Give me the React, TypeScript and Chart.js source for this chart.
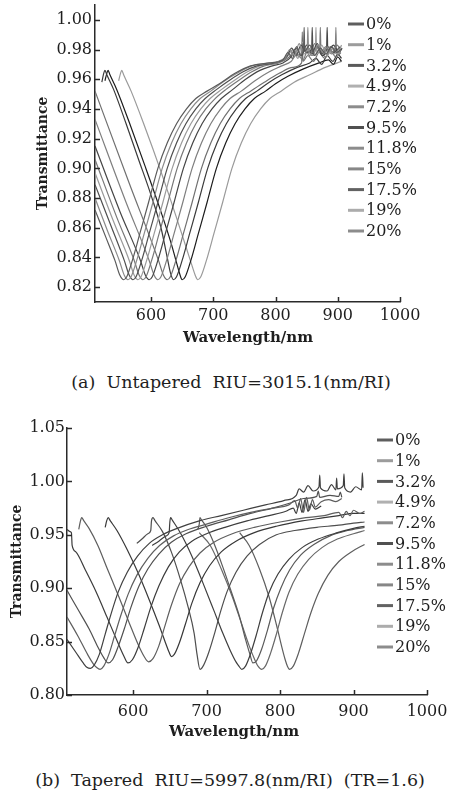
import React, { useEffect, useRef } from 'react';
import { Chart, registerables } from 'chart.js';

Chart.register(...registerables);

type Pt = [number, number];

// ---------- labels & ticks ----------
const LEGEND_LABELS = ['0%', '1%', '3.2%', '4.9%', '7.2%', '9.5%', '11.8%', '15%', '17.5%', '19%', '20%'];
const X_TICKS = [600, 700, 800, 900, 1000];
const Y_TICKS_A = [0.82, 0.84, 0.86, 0.88, 0.9, 0.92, 0.94, 0.96, 0.98, 1.0];
const Y_TICKS_B = [0.8, 0.85, 0.9, 0.95, 1.0, 1.05];
const CAPTION_A = '(a)  Untapered  RIU=3015.1(nm/RI)';
const CAPTION_B = '(b)  Tapered  RIU=5997.8(nm/RI)  (TR=1.6)';

// ---------- (a) Untapered: [wavelength nm, transmittance] ----------
const untapered0: Pt[] = [[510,0.872],[528,0.853],[542,0.838],[550,0.828],[556,0.825],[561,0.827],[570,0.838],[582,0.856],[596,0.877],[611,0.900],[626,0.917],[641,0.930],[657,0.940],[672,0.947],[690,0.952],[710,0.957],[735,0.964],[760,0.969],[790,0.971],[812,0.973],[820,0.978],[827,0.974],[834,0.982],[840,0.976],[845,0.980],[846,0.995],[847,0.979],[855,0.983],[863,0.976],[872,0.981],[881,0.977],[890,0.982],[898,0.978],[905,0.980]];
const untapered1: Pt[] = [[510,0.880],[530,0.858],[549,0.838],[557,0.828],[563,0.825],[568,0.827],[577,0.838],[589,0.856],[603,0.877],[618,0.900],[633,0.917],[648,0.930],[664,0.940],[679,0.947],[696,0.952],[715,0.958],[738,0.964],[762,0.969],[792,0.971],[815,0.974],[823,0.980],[830,0.975],[838,0.984],[845,0.977],[851,0.981],[852,0.995],[853,0.980],[860,0.976],[868,0.983],[876,0.978],[885,0.982],[894,0.977],[903,0.981]];
const untapered2: Pt[] = [[510,0.889],[535,0.862],[557,0.838],[565,0.828],[571,0.825],[576,0.827],[585,0.838],[597,0.856],[611,0.877],[626,0.900],[641,0.917],[656,0.930],[672,0.940],[687,0.947],[705,0.953],[725,0.959],[748,0.965],[770,0.969],[798,0.971],[818,0.975],[826,0.981],[833,0.976],[841,0.983],[849,0.978],[858,0.980],[859,0.995],[860,0.979],[867,0.984],[875,0.977],[884,0.982],[893,0.978],[904,0.982]];
const untapered3: Pt[] = [[510,0.897],[540,0.864],[565,0.838],[573,0.828],[579,0.825],[584,0.827],[593,0.838],[605,0.856],[619,0.877],[634,0.900],[649,0.917],[664,0.930],[680,0.940],[695,0.947],[713,0.953],[733,0.959],[755,0.965],[775,0.969],[800,0.971],[820,0.976],[828,0.980],[836,0.974],[843,0.985],[851,0.977],[858,0.982],[864,0.979],[865,0.995],[866,0.978],[874,0.983],[883,0.976],[892,0.981],[900,0.977],[906,0.983]];
const untapered4: Pt[] = [[510,0.906],[545,0.867],[573,0.838],[581,0.828],[587,0.825],[592,0.827],[601,0.838],[613,0.856],[627,0.877],[642,0.900],[657,0.917],[672,0.930],[688,0.940],[703,0.947],[720,0.953],[740,0.959],[762,0.965],[782,0.969],[805,0.971],[822,0.975],[830,0.979],[838,0.975],[846,0.982],[855,0.976],[863,0.984],[871,0.979],[872,0.995],[873,0.978],[881,0.982],[890,0.977],[899,0.983],[905,0.979]];
const untapered5: Pt[] = [[510,0.915],[550,0.871],[583,0.838],[591,0.828],[597,0.825],[602,0.827],[611,0.838],[623,0.856],[637,0.877],[652,0.900],[667,0.917],[682,0.930],[698,0.940],[713,0.947],[731,0.953],[752,0.960],[775,0.966],[795,0.969],[812,0.971],[825,0.975],[833,0.981],[842,0.976],[850,0.983],[858,0.977],[867,0.982],[875,0.976],[882,0.980],[883,0.995],[884,0.979],[893,0.983],[902,0.978],[907,0.981]];
const untapered6: Pt[] = [[510,0.933],[560,0.877],[597,0.838],[605,0.828],[611,0.825],[616,0.827],[625,0.838],[637,0.856],[651,0.877],[666,0.900],[681,0.917],[696,0.930],[712,0.940],[727,0.947],[745,0.952],[767,0.959],[790,0.965],[810,0.969],[825,0.972],[835,0.977],[844,0.973],[853,0.981],[862,0.976],[871,0.980],[880,0.975],[889,0.982],[896,0.978],[897,0.995],[898,0.977],[904,0.980]];
const untapered7: Pt[] = [[510,0.952],[565,0.890],[612,0.838],[620,0.828],[626,0.825],[631,0.827],[640,0.838],[652,0.856],[666,0.877],[681,0.900],[696,0.917],[711,0.930],[727,0.940],[742,0.947],[760,0.952],[782,0.958],[806,0.964],[828,0.968],[842,0.971],[843,0.992],[844,0.972],[852,0.976],[861,0.972],[870,0.978],[879,0.974],[888,0.979],[897,0.975],[905,0.978]];
const untapered8: Pt[] = [[521,0.958],[524,0.964],[526,0.966],[529,0.963],[540,0.953],[560,0.930],[580,0.906],[600,0.882],[616,0.860],[626,0.840],[631,0.830],[636,0.825],[641,0.827],[650,0.838],[662,0.856],[676,0.877],[691,0.900],[706,0.917],[721,0.930],[737,0.940],[752,0.947],[770,0.952],[790,0.958],[810,0.963],[835,0.968],[855,0.971],[865,0.974],[874,0.970],[883,0.976],[892,0.972],[900,0.977],[906,0.974]];
const untapered9: Pt[] = [[526,0.959],[529,0.964],[531,0.966],[534,0.963],[545,0.953],[565,0.931],[590,0.902],[615,0.872],[632,0.850],[642,0.835],[646,0.829],[650,0.825],[655,0.827],[664,0.838],[676,0.856],[690,0.877],[705,0.900],[720,0.917],[735,0.930],[751,0.940],[766,0.947],[784,0.952],[800,0.957],[820,0.962],[845,0.967],[870,0.971],[885,0.973],[893,0.970],[900,0.975],[906,0.972]];
const untapered10: Pt[] = [[548,0.959],[551,0.964],[553,0.966],[556,0.963],[568,0.952],[590,0.928],[615,0.899],[640,0.868],[657,0.846],[667,0.833],[671,0.828],[675,0.825],[680,0.827],[689,0.838],[701,0.856],[715,0.877],[730,0.900],[745,0.917],[760,0.930],[776,0.940],[791,0.947],[809,0.952],[830,0.958],[855,0.963],[880,0.968],[906,0.972]];

// ---------- (b) Tapered ----------
const tapered0: Pt[] = [[510,0.852],[522,0.840],[532,0.830],[537,0.826],[542,0.825],[547,0.828],[554,0.838],[562,0.857],[570,0.876],[580,0.897],[592,0.915],[606,0.930],[622,0.942],[640,0.950],[660,0.956],[690,0.963],[720,0.968],[750,0.973],[780,0.978],[805,0.982],[822,0.987],[826,0.993],[832,0.990],[838,0.996],[845,0.991],[853,0.995],[854,1.006],[855,0.994],[864,0.991],[870,0.997],[876,0.992],[877,1.003],[878,0.993],[886,0.996],[887,1.007],[888,0.994],[896,0.990],[903,0.995],[911,0.992],[912,1.008],[913,0.994]];
const tapered1: Pt[] = [[510,0.873],[525,0.855],[538,0.838],[546,0.829],[550,0.826],[555,0.824],[560,0.827],[567,0.838],[575,0.856],[583,0.874],[593,0.894],[605,0.912],[620,0.928],[636,0.940],[655,0.949],[675,0.955],[700,0.960],[730,0.966],[760,0.971],[790,0.975],[812,0.978],[820,0.982],[824,0.975],[828,0.984],[832,0.971],[836,0.985],[840,0.973],[844,0.983],[848,0.976],[856,0.981],[866,0.983],[876,0.981],[884,0.984]];
const tapered2: Pt[] = [[510,0.898],[525,0.880],[540,0.862],[552,0.845],[560,0.835],[566,0.830],[572,0.833],[580,0.846],[588,0.862],[597,0.882],[608,0.902],[620,0.918],[635,0.932],[652,0.943],[672,0.951],[700,0.958],[730,0.964],[760,0.970],[790,0.975],[815,0.980],[832,0.984],[850,0.986],[852,0.991],[854,0.985],[868,0.987],[880,0.986],[882,0.990],[884,0.985]];
const tapered3: Pt[] = [[510,0.955],[514,0.953],[516,0.952],[517,0.940],[522,0.934],[535,0.917],[550,0.896],[565,0.872],[578,0.851],[587,0.837],[593,0.830],[599,0.833],[607,0.845],[615,0.862],[624,0.882],[635,0.902],[648,0.920],[663,0.934],[680,0.944],[700,0.951],[725,0.957],[755,0.963],[785,0.968],[808,0.972],[818,0.975],[822,0.970],[826,0.980],[830,0.971],[834,0.983],[838,0.972],[842,0.979],[848,0.974],[856,0.977]];
const tapered4: Pt[] = [[526,0.955],[528,0.962],[530,0.966],[533,0.963],[540,0.956],[552,0.940],[565,0.918],[580,0.893],[595,0.867],[607,0.847],[615,0.836],[621,0.831],[627,0.834],[635,0.846],[643,0.864],[652,0.884],[663,0.904],[676,0.920],[691,0.933],[710,0.943],[735,0.951],[765,0.957],[800,0.962],[835,0.966],[860,0.968],[880,0.971],[885,0.966],[890,0.972],[895,0.968],[900,0.973],[908,0.970],[915,0.972]];
const tapered5: Pt[] = [[562,0.957],[564,0.963],[566,0.966],[569,0.963],[578,0.954],[592,0.936],[607,0.914],[622,0.889],[635,0.866],[644,0.849],[649,0.840],[652,0.836],[656,0.838],[663,0.849],[671,0.866],[680,0.886],[691,0.905],[704,0.921],[720,0.934],[740,0.944],[765,0.952],[795,0.958],[830,0.963],[860,0.966],[880,0.968],[900,0.970],[915,0.970]];
const tapered6: Pt[] = [[605,0.942],[612,0.946],[620,0.951],[624,0.954],[625,0.963],[627,0.966],[630,0.963],[640,0.953],[652,0.934],[664,0.909],[675,0.882],[683,0.858],[687,0.838],[691,0.824],[696,0.828],[703,0.840],[711,0.858],[719,0.878],[728,0.897],[740,0.915],[755,0.930],[772,0.941],[795,0.950],[820,0.954],[850,0.957],[880,0.959],[900,0.961],[915,0.962]];
const tapered7: Pt[] = [[626,0.940],[635,0.944],[645,0.949],[649,0.952],[650,0.962],[651,0.966],[654,0.963],[665,0.951],[680,0.930],[695,0.905],[710,0.879],[722,0.858],[732,0.842],[740,0.831],[744,0.827],[748,0.824],[753,0.827],[760,0.839],[768,0.857],[776,0.877],[785,0.896],[797,0.913],[812,0.927],[830,0.938],[852,0.946],[878,0.952],[900,0.956],[915,0.958]];
const tapered8: Pt[] = [[688,0.955],[690,0.960],[691,0.966],[693,0.964],[700,0.957],[710,0.942],[722,0.920],[734,0.896],[745,0.873],[753,0.852],[759,0.838],[763,0.830],[768,0.832],[775,0.843],[783,0.861],[791,0.881],[801,0.900],[813,0.917],[828,0.931],[846,0.941],[868,0.949],[892,0.954],[915,0.957]];
const tapered9: Pt[] = [[690,0.952],[705,0.940],[720,0.918],[735,0.892],[748,0.866],[758,0.846],[765,0.834],[770,0.827],[775,0.824],[780,0.827],[787,0.839],[795,0.857],[803,0.877],[812,0.896],[824,0.913],[839,0.927],[857,0.938],[878,0.946],[900,0.951],[915,0.954]];
const tapered10: Pt[] = [[745,0.952],[758,0.940],[772,0.918],[785,0.892],[795,0.866],[802,0.846],[807,0.833],[810,0.827],[813,0.824],[818,0.827],[825,0.839],[833,0.857],[842,0.877],[852,0.895],[865,0.912],[880,0.925],[897,0.934],[915,0.941]];

const UNTAPERED: Pt[][] = [untapered0, untapered1, untapered2, untapered3, untapered4, untapered5, untapered6, untapered7, untapered8, untapered9, untapered10];
const TAPERED: Pt[][] = [tapered0, tapered1, tapered2, tapered3, tapered4, tapered5, tapered6, tapered7, tapered8, tapered9, tapered10];

// ---------- styles ----------
const FONT = "'DejaVu Serif', 'Liberation Serif', serif";
const TEXT = '#1e1e1e';
const AXIS = '#2a2a2a';
const LEGEND_COLORS = ['#5e5e5e', '#9c9c9c', '#5a5a5a', '#b0b0b0', '#8c8c8c', '#505050', '#8c8c8c', '#878787', '#626262', '#acacac', '#8c8c8c'];
const LINE_COLORS_A = ['#5a5a5a', '#8a8a8a', '#4e4e4e', '#9a9a9a', '#777777', '#454545', '#7e7e7e', '#707070', '#3a3a3a', '#1c1c1c', '#9a9a9a'];
const LINE_COLORS_B = ['#404040', '#5e5e5e', '#505050', '#3c3c3c', '#5e5e5e', '#383838', '#4e4e4e', '#3e3e3e', '#5a5a5a', '#686868', '#5e5e5e'];

interface PanelCfg {
  series: Pt[][];
  lineColors: string[];
  yTicks: number[];
  yMin: number;
  yMax: number;
  top: number;
  height: number;
  padTop: number;
  padRight: number;
  yAxisW: number;
  xAxisH: number;
  xTickPad: number;
  yTickPad: number;
  yTitleX: number;
  xTitleX: number;
  xTitleY: number;
  legendX: number;
  legendY0: number;
  legendStep: number;
}

function Panel({ cfg }: { cfg: PanelCfg }) {
  const ref = useRef<HTMLCanvasElement>(null);
  useEffect(() => {
    const canvas = ref.current;
    if (!canvas) return;
    const decor = {
      id: 'decor',
      afterDraw(chart: any) {
        const ctx: CanvasRenderingContext2D = chart.ctx;
        const { left, top, bottom } = chart.chartArea;
        const xs = chart.scales.x;
        const ys = chart.scales.y;
        ctx.save();
        ctx.strokeStyle = AXIS;
        ctx.lineWidth = 1.5;
        xs.ticks.forEach((t: any) => {
          const px = Math.round(xs.getPixelForValue(t.value)) + 0.5;
          ctx.beginPath();
          ctx.moveTo(px, bottom);
          ctx.lineTo(px, bottom - 5);
          ctx.stroke();
        });
        ys.ticks.forEach((t: any) => {
          const py = Math.round(ys.getPixelForValue(t.value)) + 0.5;
          ctx.beginPath();
          ctx.moveTo(left, py);
          ctx.lineTo(left + 5, py);
          ctx.stroke();
        });
        // axis titles
        ctx.fillStyle = TEXT;
        ctx.textAlign = 'center';
        ctx.textBaseline = 'middle';
        ctx.font = `bold 15px ${FONT}`;
        ctx.fillText('Wavelength/nm', cfg.xTitleX, cfg.xTitleY);
        ctx.save();
        ctx.font = `bold 14px ${FONT}`;
        ctx.translate(cfg.yTitleX, (top + bottom) / 2);
        ctx.rotate(-Math.PI / 2);
        ctx.fillText('Transmittance', 0, 0);
        ctx.restore();
        // legend
        ctx.font = `16px ${FONT}`;
        ctx.textAlign = 'left';
        chart.data.datasets.forEach((ds: any, i: number) => {
          const y = cfg.legendY0 + i * cfg.legendStep;
          ctx.strokeStyle = LEGEND_COLORS[i];
          ctx.lineWidth = 3;
          ctx.beginPath();
          ctx.moveTo(cfg.legendX, y);
          ctx.lineTo(cfg.legendX + 16, y);
          ctx.stroke();
          ctx.fillStyle = TEXT;
          ctx.fillText(ds.label, cfg.legendX + 18, y + 1);
        });
        ctx.restore();
      },
    };

    const chart = new Chart(canvas, {
      type: 'line',
      data: {
        datasets: cfg.series.map((pts, i) => ({
          label: LEGEND_LABELS[i],
          data: pts.map(([x, y]) => ({ x, y })),
          borderColor: cfg.lineColors[i],
          borderWidth: 1.2,
          pointRadius: 0,
          fill: false,
          cubicInterpolationMode: 'monotone' as const,
        })),
      },
      options: {
        animation: false,
        responsive: false,
        devicePixelRatio: 1,
        layout: { padding: { left: 0, right: cfg.padRight, top: cfg.padTop, bottom: 0 } },
        plugins: { legend: { display: false }, tooltip: { enabled: false }, title: { display: false } },
        scales: {
          x: {
            type: 'linear',
            min: 510,
            max: 1000,
            afterBuildTicks: (s: any) => {
              s.ticks = X_TICKS.map((v) => ({ value: v }));
            },
            afterFit: (s: any) => {
              s.height = cfg.xAxisH;
              s.paddingLeft = 0;
              s.paddingRight = 0;
            },
            grid: { display: false, drawTicks: false },
            border: { display: true, color: AXIS, width: 1.5 },
            ticks: {
              color: TEXT,
              font: { family: FONT, size: 16 },
              padding: cfg.xTickPad,
              maxRotation: 0,
              autoSkip: false,
              callback: (v: any) => String(v),
            },
          },
          y: {
            type: 'linear',
            min: cfg.yMin,
            max: cfg.yMax,
            afterBuildTicks: (s: any) => {
              s.ticks = cfg.yTicks.map((v) => ({ value: v }));
            },
            afterFit: (s: any) => {
              s.width = cfg.yAxisW;
              s.paddingTop = 0;
              s.paddingBottom = 0;
            },
            grid: { display: false, drawTicks: false },
            border: { display: true, color: AXIS, width: 1.5 },
            ticks: {
              color: TEXT,
              font: { family: FONT, size: 16 },
              padding: cfg.yTickPad,
              autoSkip: false,
              callback: (v: any) => Number(v).toFixed(2),
            },
          },
        },
      },
      plugins: [decor],
    });
    return () => chart.destroy();
  }, [cfg]);
  return (
    <canvas
      ref={ref}
      width={451}
      height={cfg.height}
      style={{ position: 'absolute', left: 0, top: cfg.top, width: 451, height: cfg.height }}
    />
  );
}

const CFG_A: PanelCfg = {
  series: UNTAPERED,
  lineColors: LINE_COLORS_A,
  yTicks: Y_TICKS_A,
  yMin: 0.81,
  yMax: 1.01,
  top: 0,
  height: 350,
  padTop: 5,
  padRight: 51,
  yAxisW: 95,
  xAxisH: 48,
  xTickPad: 4,
  yTickPad: 3,
  yTitleX: 43,
  xTitleX: 248,
  xTitleY: 338,
  legendX: 348,
  legendY0: 24,
  legendStep: 20.7,
};

const CFG_B: PanelCfg = {
  series: TAPERED,
  lineColors: LINE_COLORS_B,
  yTicks: Y_TICKS_B,
  yMin: 0.8,
  yMax: 1.05,
  top: 400,
  height: 345,
  padTop: 28,
  padRight: 24,
  yAxisW: 67,
  xAxisH: 50,
  xTickPad: 7,
  yTickPad: 2,
  yTitleX: 17,
  xTitleX: 234,
  xTitleY: 332,
  legendX: 377,
  legendY0: 40,
  legendStep: 20.7,
};

const captionStyle = (centerY: number, centerX: number): React.CSSProperties => ({
  position: 'absolute',
  left: centerX - 225,
  width: 450,
  top: centerY - 12,
  height: 24,
  lineHeight: '24px',
  textAlign: 'center',
  whiteSpace: 'pre',
  fontFamily: FONT,
  fontSize: 17.5,
  color: TEXT,
});

export default function App() {
  return (
    <div style={{ position: 'absolute', left: 0, top: 0, width: 451, height: 791, background: '#fff', overflow: 'hidden' }}>
      <Panel cfg={CFG_A} />
      <div style={captionStyle(382, 231)}>{CAPTION_A}</div>
      <Panel cfg={CFG_B} />
      <div style={captionStyle(780, 230)}>{CAPTION_B}</div>
    </div>
  );
}
